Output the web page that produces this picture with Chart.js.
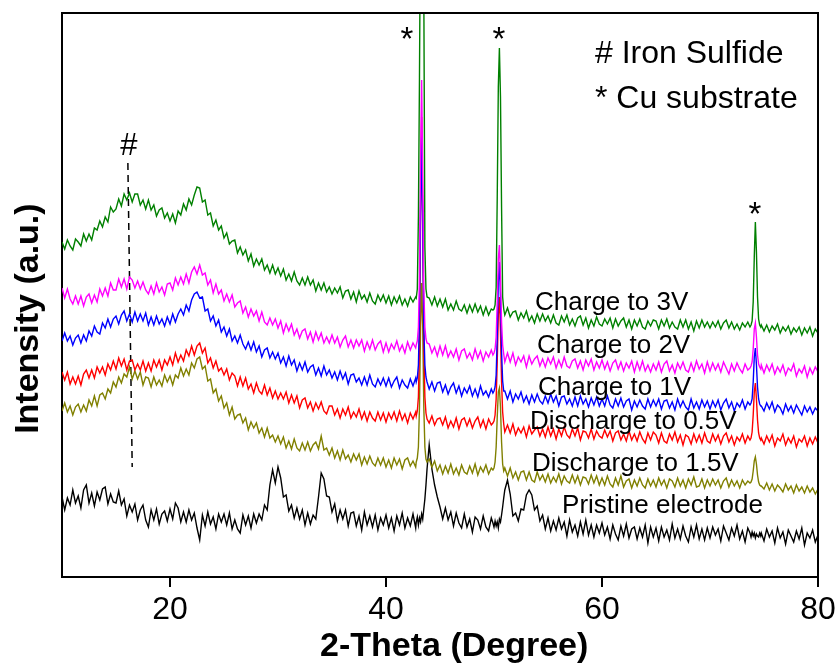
<!DOCTYPE html>
<html>
<head>
<meta charset="utf-8">
<script src="https://cdn.jsdelivr.net/npm/chart.js@4/dist/chart.umd.min.js"></script>
<style>
html,body{margin:0;padding:0;background:#ffffff;}
#wrap{width:840px;height:668px;}
</style>
</head>
<body>
<div id="wrap"><canvas id="c" width="840" height="668"></canvas></div>
<script>
// ---- 2-theta scan: start and step of the measured grid (degrees) ----
const TWO_THETA_START = 10;
const TWO_THETA_STEP = 0.25;
const xTickValues = [20, 40, 60, 80];

// fine sampling around the three Cu substrate reflections
const cuWindowX = [
  [42.8, 42.9, 43.0, 43.1, 43.2, 43.3, 43.4, 43.5, 43.6, 43.7, 43.8],
  [49.9, 50.0, 50.1, 50.2, 50.3, 50.4, 50.5, 50.6, 50.7, 50.8, 50.9],
  [73.7, 73.8, 73.9, 74.0, 74.1, 74.2, 74.3, 74.4, 74.5, 74.6, 74.7]
];

const seriesNames = ['Charge to 3V', 'Charge to 2V', 'Charge to 1V', 'Discharge to 0.5V', 'Discharge to 1.5V', 'Pristine electrode'];

// intensities (a.u., offset-stacked as in the figure); null = covered by the fine Cu windows
const charge3V = [
335,328,337,331,327,338,335,331,343,336,343,337,349,347,356,350,360,355,370,365,
368,378,371,383,377,384,375,383,383,372,377,368,377,367,372,361,367,369,359,364,
356,363,354,366,362,373,367,378,372,382,390,389,375,377,362,364,351,357,347,351,
339,344,333,336,337,324,330,322,327,316,323,311,318,312,318,307,312,304,312,303,
309,301,308,297,303,296,305,296,292,299,292,300,292,297,286,294,287,294,285,290,
283,289,284,290,279,286,287,278,285,275,286,278,282,275,284,276,273,282,276,282,
274,281,272,280,274,281,272,278,271,280,275,280,null,null,null,null,279,272,280,271,
278,270,278,267,273,267,276,268,266,272,264,272,265,273,265,271,262,270,262,268,
null,null,null,null,262,269,260,265,266,257,264,259,266,256,261,254,263,256,263,256,
261,254,262,254,252,261,255,262,252,258,251,259,261,252,259,249,257,251,260,253,
251,258,253,259,249,258,251,256,259,250,257,248,257,251,258,250,248,256,251,257,
256,248,257,251,258,249,255,250,248,257,250,257,248,255,246,256,249,257,250,255,
249,255,250,256,248,254,257,249,255,248,253,247,254,250,255,null,null,null,null,252,
246,252,245,251,247,253,244,250,246,251,243,249,245,250,242,249,244,250,241,248,
244];
const charge3VCu = [
  [279,288,360,500,680,950,760,590,330,288,280],
  [267,268,272,290,380,490,529,480,370,280,268],
  [250,252,256,275,320,355,325,280,258,252,250]
];

const charge2V = [
289,279,288,278,273,281,273,281,271,280,283,274,282,275,288,281,289,281,294,287,
287,298,290,298,288,300,297,289,296,288,295,287,283,291,283,294,285,290,282,293,
294,287,299,292,300,293,303,294,305,310,303,312,302,304,292,297,284,293,283,287,
276,283,275,282,270,274,276,264,270,260,268,261,266,256,265,255,252,259,252,258,
249,256,244,253,246,253,242,248,239,246,248,238,245,235,245,237,244,234,240,234,
242,234,240,230,237,241,230,237,229,237,231,237,226,235,228,237,227,233,236,225,
234,225,233,228,236,226,232,224,235,227,234,229,null,null,null,null,233,224,230,221,
231,222,231,220,226,220,228,217,226,228,219,224,217,228,219,226,216,225,220,227,
null,null,null,null,215,224,215,224,212,220,215,221,210,221,213,218,221,211,218,210,
219,213,220,209,217,210,220,211,209,216,218,209,216,207,217,211,218,207,215,209,
217,208,215,206,214,217,208,215,206,214,209,216,205,215,207,216,206,212,205,213,
207,215,205,213,216,206,212,204,214,208,215,207,205,214,206,216,208,213,204,215,
206,214,207,213,205,215,209,203,213,206,214,208,204,213,207,null,null,null,null,212,
204,212,206,213,203,210,205,212,202,209,206,213,201,208,204,211,200,209,203,210,
205];
const charge2VCu = [
  [232,236,250,300,420,497,400,290,250,238,234],
  [222,224,228,240,275,318,332,300,255,232,223],
  [209,211,215,228,248,254,240,222,213,210,208]
];

const charge1V = [
236,244,236,241,232,239,242,234,242,236,246,241,251,245,243,254,249,258,250,258,
261,253,262,266,256,263,255,265,256,263,256,264,252,260,252,261,253,258,251,260,
253,263,255,263,268,262,272,266,277,283,285,279,280,266,268,256,261,251,257,245,
250,241,248,236,241,234,242,233,228,235,227,235,225,231,220,227,229,219,225,218,
224,214,220,211,221,212,217,206,214,207,215,205,210,212,202,209,201,211,202,207,
199,205,197,206,198,204,193,202,203,195,199,192,200,192,202,193,190,198,192,199,
191,199,190,196,200,189,197,192,189,198,191,199,null,null,null,null,188,195,186,194,
195,185,192,183,190,194,184,191,181,189,184,191,181,188,180,191,182,186,180,188,
null,null,null,null,186,178,186,175,183,178,185,175,181,173,182,175,183,176,173,181,
174,183,175,181,171,180,181,173,178,171,180,171,181,173,178,170,179,172,180,171,
178,171,181,172,169,178,171,179,170,176,178,167,176,170,177,171,168,178,170,177,
171,178,168,176,177,169,175,167,178,170,176,170,167,178,169,175,168,177,170,176,
168,176,170,177,167,174,178,169,175,166,174,170,177,168,175,null,null,null,null,171,
166,174,168,175,165,172,169,163,173,166,171,164,172,167,162,171,165,170,163,169,
166];
const charge1VCu = [
  [195,199,212,260,370,440,350,250,212,200,195],
  [184,186,190,202,240,295,315,280,225,196,186],
  [172,174,178,195,220,229,212,190,178,173,171]
];

const discharge05V = [
205,197,205,193,200,193,201,192,203,207,199,207,199,210,204,210,202,213,207,216,
208,219,211,218,207,216,217,207,213,207,216,206,214,206,217,210,217,207,217,212,
220,212,224,215,222,216,227,221,231,222,231,234,224,229,214,219,209,216,206,209,
202,208,197,204,201,191,200,191,199,188,193,184,194,186,183,192,182,189,179,186,
178,184,178,185,174,182,174,181,169,177,179,169,175,166,174,168,175,166,163,171,
171,162,168,159,168,162,170,159,165,160,168,158,165,156,165,159,156,165,157,164,
155,164,158,165,156,166,157,163,154,164,158,165,null,null,null,null,154,161,152,158,
159,152,160,149,156,150,159,148,157,159,151,158,149,156,160,150,157,148,158,152,
null,null,null,null,145,152,144,153,142,149,144,150,140,151,143,147,150,141,148,140,
150,141,148,138,148,141,150,142,139,148,141,149,137,146,145,139,148,138,146,141,
139,147,140,146,136,144,146,137,143,136,146,137,143,136,145,138,134,144,137,145,
142,134,144,136,134,143,137,145,135,142,132,142,140,133,143,135,142,134,144,136,
134,143,136,142,133,141,144,135,141,132,140,136,143,134,141,null,null,null,null,139,
133,141,135,142,131,139,136,143,132,139,134,141,130,138,135,141,131,139,133,140,
134];
const discharge05VCu = [
  [161,166,180,230,360,460,360,230,180,164,158],
  [154,156,162,178,215,262,280,245,195,165,153],
  [137,139,145,162,185,194,178,157,144,139,137]
];

const discharge15V = [
166,174,165,171,162,170,173,165,172,166,177,171,181,171,182,184,178,188,184,195,
190,200,194,203,200,210,198,206,198,205,192,200,199,190,200,192,197,191,202,195,
201,192,202,199,209,201,208,202,214,209,218,220,208,211,196,198,184,188,176,181,
169,174,162,170,158,162,163,154,159,147,155,149,154,144,149,140,149,139,142,135,
141,133,140,129,136,128,138,129,126,134,127,135,126,132,135,128,141,127,129,122,
129,119,126,117,127,118,122,115,123,117,123,112,120,113,121,114,111,119,112,119,
110,117,109,119,112,118,108,117,119,111,116,110,null,null,null,null,118,110,116,106,
112,103,111,104,113,103,109,102,112,105,103,111,104,113,102,110,105,112,103,109,
null,null,null,null,109,101,109,99,105,97,105,106,97,105,97,95,105,97,102,95,
103,94,100,95,103,93,101,96,94,102,94,101,92,100,99,93,102,94,101,92,
99,92,101,93,90,99,92,101,90,96,98,89,97,91,99,92,89,98,91,97,
90,99,92,97,89,98,96,90,99,91,97,89,98,92,100,90,91,98,89,97,
91,98,92,97,89,96,99,90,97,91,96,89,97,92,96,null,null,null,null,91,
88,94,87,93,86,92,89,85,93,87,91,84,92,86,90,84,91,85,89,83,
88];
const discharge15VCu = [
  [115,119,130,170,250,294,250,170,130,118,115],
  [107,109,115,130,160,185,189,170,135,113,106],
  [94,95,98,106,116,120,113,102,95,92,91]
];

const pristine = [
80,67,79,72,87,74,81,69,87,92,74,84,71,85,77,88,90,73,83,75,
74,86,72,78,61,72,65,73,57,67,72,57,50,67,57,68,53,63,66,56,
68,58,74,69,55,65,55,67,57,64,49,37,62,51,65,53,60,48,63,55,
63,52,64,48,57,48,44,62,52,61,49,63,54,63,57,72,67,92,107,94,
110,99,80,82,66,72,59,69,58,67,52,64,53,62,58,80,104,98,81,80,
65,73,56,67,58,67,51,64,65,51,61,47,65,52,61,50,62,47,59,52,
62,49,59,46,61,52,64,49,59,51,63,49,null,null,null,null,132,108,92,80,
70,58,69,57,65,51,64,54,49,63,50,58,45,60,57,48,61,50,46,59,
null,null,null,null,87,97,83,61,64,56,68,67,82,87,82,67,71,56,62,48,
59,46,56,47,59,48,55,41,57,45,52,41,55,43,57,42,52,40,52,44,
54,42,50,38,52,43,37,51,41,53,39,48,50,38,49,40,52,34,50,40,
49,36,50,40,47,37,53,39,48,38,51,41,35,50,40,52,38,48,37,49,
39,50,42,48,36,51,44,37,49,41,52,38,46,35,49,null,null,null,null,44,
36,48,40,46,34,49,39,45,33,47,41,35,46,38,49,32,44,39,47,35,
42];
const pristineCu = [
  [55,60,52,59,55,63,58,68,78,92,108],
  [54,50,56,51,55,49,58,55,62,70,79],
  [44,40,45,41,44,39,43,41,40,44,41]
];

// guide line under the "#" mark (2-theta, intensity)
const ironSulfideGuideX = [16.1, 16.5];
const ironSulfideGuideY = [414, 110];

// ---- building the datasets from the arrays above ----
function buildPoints(base, windows) {
  const pts = [];
  base.forEach((v, i) => {
    if (v !== null) pts.push({x: +(TWO_THETA_START + i * TWO_THETA_STEP).toFixed(2), y: v});
  });
  windows.forEach((w, k) => w.forEach((v, j) => pts.push({x: cuWindowX[k][j], y: v})));
  return pts.sort((a, b) => a.x - b.x);
}

const seriesData = [
  buildPoints(charge3V, charge3VCu),
  buildPoints(charge2V, charge2VCu),
  buildPoints(charge1V, charge1VCu),
  buildPoints(discharge05V, discharge05VCu),
  buildPoints(discharge15V, discharge15VCu),
  buildPoints(pristine, pristineCu)
];
const seriesColors = ['#008000', '#ff00ff', '#0000ff', '#ff0000', '#808000', '#000000'];

const FONT = '"Liberation Sans", Arial, Helvetica, sans-serif';

const datasets = seriesNames.map((name, i) => ({
  label: name,
  data: seriesData[i],
  borderColor: seriesColors[i],
  backgroundColor: seriesColors[i],
  borderWidth: 1.4,
  pointRadius: 0,
  tension: 0,
  fill: false
}));
datasets.push({
  label: 'guide',
  data: ironSulfideGuideX.map((x, i) => ({x: x, y: ironSulfideGuideY[i]})),
  borderColor: '#000000',
  borderWidth: 1.5,
  borderDash: [7, 5],
  pointRadius: 0,
  fill: false
});

// text annotations in data coordinates (x = 2-theta, y = intensity at the text baseline)
const curveLabels = [
  {text: 'Charge to 3V', x: 53.80, y: 267},
  {text: 'Charge to 2V', x: 53.98, y: 224},
  {text: 'Charge to 1V', x: 54.07, y: 182},
  {text: 'Discharge to 0.5V', x: 53.33, y: 148},
  {text: 'Discharge to 1.5V', x: 53.52, y: 106},
  {text: 'Pristine electrode', x: 56.30, y: 64}
];
const keyLabels = [
  {text: '# Iron Sulfide', x: 59.35, y: 514},
  {text: '* Cu substrate', x: 59.35, y: 469}
];
const cuMarks = [
  {x: 41.94, y: 527},
  {x: 50.46, y: 527},
  {x: 74.17, y: 352}
];
const ironMark = {x: 16.2, y: 422};

const annotate = {
  id: 'annotate',
  afterDatasetsDraw(chart) {
    const {ctx, chartArea: a, scales} = chart;
    const sx = scales.x, sy = scales.y;
    ctx.save();
    ctx.strokeStyle = '#000';
    ctx.lineWidth = 2;
    ctx.beginPath();
    ctx.moveTo(a.left, a.top);
    ctx.lineTo(a.right, a.top);
    ctx.lineTo(a.right, a.bottom);
    ctx.stroke();

    ctx.fillStyle = '#000';
    ctx.textBaseline = 'alphabetic';
    ctx.textAlign = 'left';
    ctx.font = '26px ' + FONT;
    curveLabels.forEach(l => ctx.fillText(l.text, sx.getPixelForValue(l.x), sy.getPixelForValue(l.y)));
    ctx.font = '32px ' + FONT;
    keyLabels.forEach(l => ctx.fillText(l.text, sx.getPixelForValue(l.x), sy.getPixelForValue(l.y)));
    ctx.textAlign = 'center';
    ctx.font = '33px ' + FONT;
    cuMarks.forEach(m => ctx.fillText('*', sx.getPixelForValue(m.x), sy.getPixelForValue(m.y)));
    ctx.font = '31px ' + FONT;
    ctx.fillText('#', sx.getPixelForValue(ironMark.x), sy.getPixelForValue(ironMark.y));
    ctx.restore();
  }
};

new Chart(document.getElementById('c'), {
  type: 'line',
  data: {datasets: datasets},
  options: {
    responsive: false,
    devicePixelRatio: 1,
    animation: false,
    events: [],
    layout: {padding: {top: 13, right: 22, bottom: 0, left: 0}},
    plugins: {legend: {display: false}, tooltip: {enabled: false}},
    scales: {
      x: {
        type: 'linear',
        position: 'bottom',
        min: 10,
        max: 80,
        afterBuildTicks: s => { s.ticks = xTickValues.map(v => ({value: v})); },
        afterFit: s => { s.height = 91; },
        ticks: {color: '#000', font: {family: FONT, size: 32}, padding: 4, maxRotation: 0, autoSkip: false},
        grid: {display: true, drawOnChartArea: false, drawTicks: true, tickLength: 10, tickColor: '#000', tickWidth: 2, color: '#000', lineWidth: 2},
        border: {display: true, color: '#000', width: 2},
        title: {display: true, text: '   2-Theta (Degree)', color: '#000', font: {family: FONT, size: 34, weight: 'bold'}, padding: {top: 0, bottom: 1}}
      },
      y: {
        type: 'linear',
        position: 'left',
        min: 0,
        max: 564,
        afterFit: s => { s.width = 62; },
        ticks: {display: false},
        grid: {display: false},
        border: {display: true, color: '#000', width: 2},
        title: {display: true, text: 'Intensity (a.u.)     ', color: '#000', font: {family: FONT, size: 34, weight: 'bold'}, padding: {top: 8, bottom: 0}}
      }
    }
  },
  plugins: [annotate]
});
</script>
</body>
</html>
